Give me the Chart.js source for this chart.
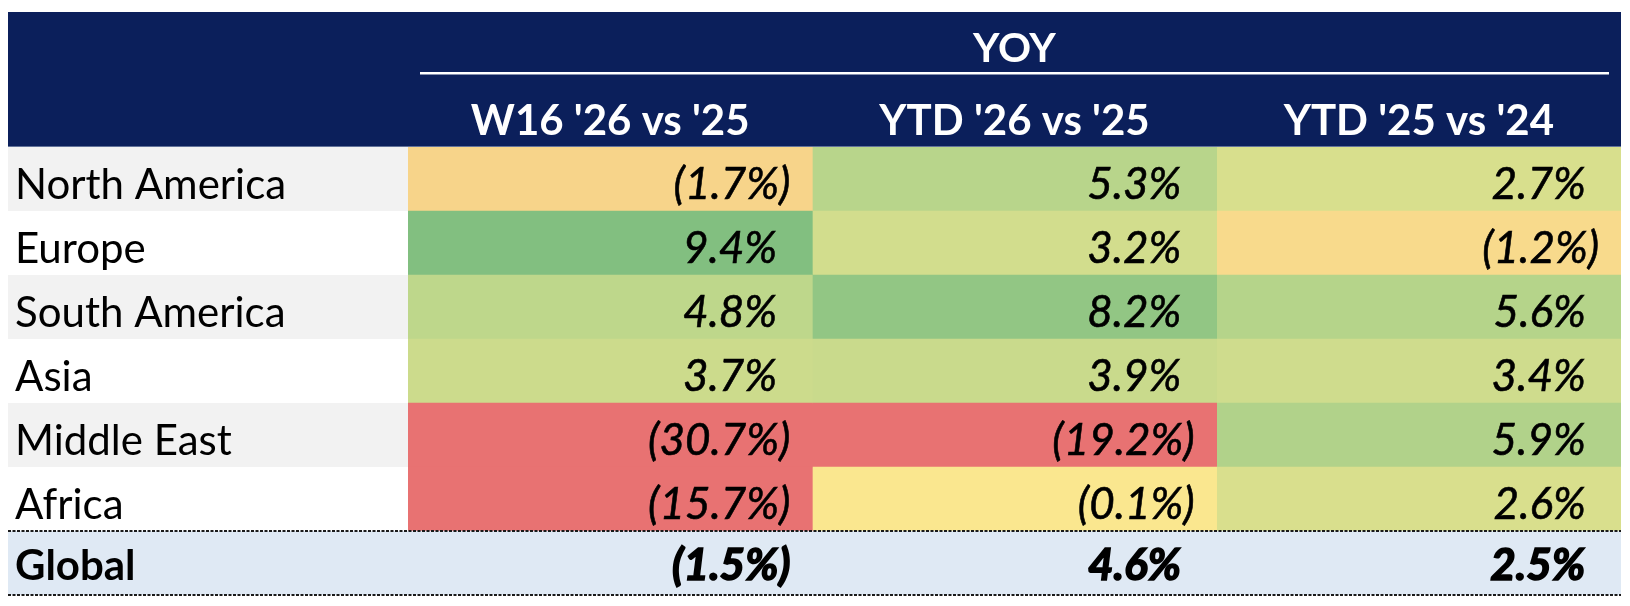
<!DOCTYPE html>
<html>
<head>
<meta charset="utf-8">
<script src="https://cdn.jsdelivr.net/npm/chart.js@4.4.1/dist/chart.umd.min.js"></script>
<style>
  html, body { margin: 0; padding: 0; background: #ffffff; }
  #wrap { width: 1630px; height: 606px; }
</style>
</head>
<body>
<div id="wrap"><canvas id="c" width="1630" height="606"></canvas></div>
<script>
// ---------- DATA ----------
const groupTitle = "YOY";
const columnHeaders = ["W16 '26 vs '25", "YTD '26 vs '25", "YTD '25 vs '24"];
const regions = ["North America", "Europe", "South America", "Asia", "Middle East", "Africa"];
const totalLabel = "Global";
const w16_26vs25 = [-1.7, 9.4, 4.8, 3.7, -30.7, -15.7];
const ytd26vs25  = [5.3, 3.2, 8.2, 3.9, -19.2, -0.1];
const ytd25vs24  = [2.7, -1.2, 5.6, 3.4, 5.9, 2.6];
const globalValues = [-1.5, 4.6, 2.5];

// ---------- STYLE ----------
const NAVY = '#0b1f5b';
const GLOBAL_BG = '#dfe9f4';
const LABEL_GRAY = '#f2f2f2';
const FONT = 'Lato, "Open Sans", sans-serif';
const colorStops = [
  [-10, [232, 114, 114]],
  [0,   [250, 232, 143]],
  [3,   [212, 222, 141]],
  [6,   [176, 210, 138]],
  [9.4, [130, 191, 128]]
];
function colorFor(v) {
  if (v <= colorStops[0][0]) return rgb(colorStops[0][1]);
  for (let i = 1; i < colorStops.length; i++) {
    const [x1, c1] = colorStops[i];
    const [x0, c0] = colorStops[i - 1];
    if (v <= x1) {
      const t = (v - x0) / (x1 - x0);
      return rgb(c0.map((c, k) => c + (c1[k] - c) * t));
    }
  }
  return rgb(colorStops[colorStops.length - 1][1]);
}
function rgb(a) { return 'rgb(' + a.map(Math.round).join(',') + ')'; }
function fmt(v) {
  const s = Math.abs(v).toFixed(1) + '%';
  return v < 0 ? '(' + s + ')' : s;
}

const columns = [w16_26vs25, ytd26vs25, ytd25vs24];
const rowLabels = regions.concat([totalLabel]);
const lastRow = rowLabels.length - 1;

function valueAt(col, row) {
  return row === lastRow ? globalValues[col] : columns[col][row];
}

const datasets = columns.map((vals, c) => ({
  label: columnHeaders[c],
  data: rowLabels.map(() => [c, c + 1]),
  backgroundColor: (ctx) => ctx.dataIndex === lastRow ? GLOBAL_BG : colorFor(vals[ctx.dataIndex]),
  borderWidth: 0,
  borderSkipped: false
}));

const tablePlugin = {
  id: 'tablePlugin',
  beforeDatasetsDraw(chart) {
    const ctx = chart.ctx;
    const xs = chart.scales.x, ys = chart.scales.y;
    const left = 8, right = xs.getPixelForValue(3);
    const dataLeft = xs.getPixelForValue(0);
    const half = (ys.getPixelForValue(1) - ys.getPixelForValue(0)) / 2;
    ctx.save();
    ctx.fillStyle = NAVY;
    ctx.fillRect(left, 12, right - left, chart.chartArea.top - 12);
    rowLabels.forEach((lab, i) => {
      const yc = ys.getPixelForValue(i);
      ctx.fillStyle = i === lastRow ? GLOBAL_BG : (i % 2 === 0 ? LABEL_GRAY : '#ffffff');
      ctx.fillRect(left, yc - half, dataLeft - left, half * 2);
    });
    ctx.restore();
  },
  afterDatasetsDraw(chart) {
    const ctx = chart.ctx;
    const xs = chart.scales.x, ys = chart.scales.y;
    const left = 8, right = xs.getPixelForValue(3);
    const half = (ys.getPixelForValue(1) - ys.getPixelForValue(0)) / 2;
    ctx.save();
    ctx.fillStyle = 'rgba(120,135,170,0.8)';
    ctx.fillRect(left, chart.chartArea.top - 1, right - left, 1);
    ctx.fillStyle = '#ffffff';
    ctx.textAlign = 'center';
    ctx.textBaseline = 'alphabetic';
    ctx.font = 'bold 41px ' + FONT;
    ctx.fillText(groupTitle, xs.getPixelForValue(1.5), 62);
    ctx.fillRect(xs.getPixelForValue(0) + 12, 72, xs.getPixelForValue(3) - xs.getPixelForValue(0) - 24, 2.5);
    ctx.font = 'bold 42px ' + FONT;
    columnHeaders.forEach((h, c) => {
      ctx.fillText(h, xs.getPixelForValue(c + 0.5), 135);
    });
    rowLabels.forEach((lab, i) => {
      const top = ys.getPixelForValue(i) - half;
      const bold = i === lastRow;
      const base = top + (bold ? 49 : 52);
      ctx.fillStyle = '#000000';
      ctx.strokeStyle = '#000000';
      ctx.textAlign = 'left';
      ctx.font = (bold ? 'bold ' : '') + '42px ' + FONT;
      ctx.fillText(lab, 15, base);
      ctx.textAlign = 'right';
      ctx.font = 'italic ' + (bold ? 'bold ' : '') + '44px ' + FONT;
      ctx.lineWidth = bold ? 1.6 : 0.6;
      const parenW = ctx.measureText(')').width + 2;
      for (let c = 0; c < columns.length; c++) {
        const v = valueAt(c, i);
        const cellRight = xs.getPixelForValue(c + 1);
        const xr = cellRight - 22 - (v < 0 ? 0 : parenW);
        ctx.fillText(fmt(v), xr, base);
        ctx.strokeText(fmt(v), xr, base);
      }
    });
    const gTop = ys.getPixelForValue(lastRow) - half;
    const gBot = ys.getPixelForValue(lastRow) + half;
    ctx.strokeStyle = '#1a1a1a';
    ctx.lineWidth = 2;
    ctx.setLineDash([3, 1.5]);
    [gTop, gBot].forEach(y => {
      ctx.beginPath();
      ctx.moveTo(left, y);
      ctx.lineTo(right, y);
      ctx.stroke();
    });
    ctx.restore();
  }
};

function build() {
  new Chart(document.getElementById('c'), {
    type: 'bar',
    data: { labels: rowLabels, datasets: datasets },
    options: {
      indexAxis: 'y',
      responsive: false,
      animation: false,
      devicePixelRatio: 1,
      grouped: false,
      barPercentage: 1,
      categoryPercentage: 1,
      layout: { padding: { left: 408, top: 147, right: 9, bottom: 11 } },
      scales: {
        x: { type: 'linear', min: 0, max: 3, display: false },
        y: { type: 'category', display: false }
      },
      plugins: { legend: { display: false }, tooltip: { enabled: false } },
      events: []
    },
    plugins: [tablePlugin]
  });
}
if (document.fonts && document.fonts.load) {
  Promise.all([
    document.fonts.load('42px Lato'),
    document.fonts.load('bold 42px Lato'),
    document.fonts.load('italic 44px Lato'),
    document.fonts.load('italic bold 44px Lato')
  ]).then(build, build);
} else {
  build();
}
</script>
</body>
</html>
